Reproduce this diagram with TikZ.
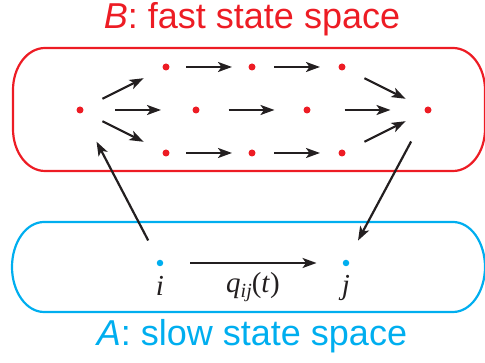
\documentclass[tikz,border=0pt]{standalone}
\usepackage{fontspec}
\setmainfont{Liberation Serif}
\setsansfont{Liberation Sans}
\usetikzlibrary{arrows.meta,calc}
\definecolor{fastred}{RGB}{237,28,36}
\definecolor{slowblue}{RGB}{0,174,239}
\definecolor{ink}{RGB}{35,31,32}
\begin{document}
\begin{tikzpicture}[x=1pt,y=1pt,
  reddot/.style={circle,fill=fastred,inner sep=0pt,minimum size=7pt},
  bluedot/.style={circle,fill=slowblue,inner sep=0pt,minimum size=6.5pt},
  arr/.style={draw=ink,line width=2.2pt,-{Stealth[length=14pt,width=10pt,inset=3.5pt]}},
  boxline/.style={line width=2.2pt},
  title/.style={font=\sffamily\fontsize{36}{36}\selectfont,inner sep=0pt},
  mathlbl/.style={font=\fontsize{29}{29}\selectfont,inner sep=0pt,text=ink}]
\useasboundingbox (0,0) rectangle (485,363);
% boxes
\draw[boxline,fastred] (45,315) -- (453,315) arc[start angle=90,end angle=0,x radius=32,y radius=42]
  -- (485,234) arc[start angle=0,end angle=-90,x radius=32,y radius=42]
  -- (45,192) arc[start angle=270,end angle=180,x radius=32,y radius=42]
  -- (13,273) arc[start angle=180,end angle=90,x radius=32,y radius=42] -- cycle;
\draw[boxline,slowblue] (44,141) -- (453,141) arc[start angle=90,end angle=0,x radius=32,y radius=45]
  arc[start angle=0,end angle=-90,x radius=32,y radius=45]
  -- (44,51) arc[start angle=270,end angle=180,x radius=32,y radius=45]
  arc[start angle=180,end angle=90,x radius=32,y radius=45] -- cycle;
% titles
\node[title,text=fastred] (tB) at (252,344) {\textit{B}: fast state space};
\node[title,text=slowblue] (tA) at (252,27) {\textit{A}: slow state space};
% fast states
\node[reddot] (s) at (80,253) {};
\node[reddot] (t1) at (166,296) {};
\node[reddot] (t2) at (252,296) {};
\node[reddot] (t3) at (342,296) {};
\node[reddot] (m1) at (196,253) {};
\node[reddot] (m2) at (307,253) {};
\node[reddot] (b1) at (166,210) {};
\node[reddot] (b2) at (252,210) {};
\node[reddot] (b3) at (342,210) {};
\node[reddot] (e) at (428,253) {};
% slow states
\node[bluedot] (i) at (160,100) {};
\node[bluedot] (j) at (346,100) {};
\node[mathlbl] (li) at (160,77) {\textit{i}};
\node[mathlbl] (lj) at (346,75) {\textit{j}};
\node[mathlbl] (lq) at (253,76) {\textit{q}\raisebox{-0.2em}{\fontsize{20}{20}\selectfont\itshape ij}(\textit{t})};
% fast arrows
\foreach \a/\b in {s/t1,s/m1,s/b1,t1/t2,t2/t3,m1/m2,m2/e,b1/b2,b2/b3,t3/e,b3/e}{
  \draw[arr] ($(\a)!0.5!(\b)!23pt!(\a)$) -- ($(\a)!0.5!(\b)!23pt!(\b)$);
}
% slow arrow
\draw[arr,shorten <=27pt,shorten >=26pt] (i) -- (j);
% links
\draw[arr,shorten <=22pt,shorten >=32pt] (i) -- (s);
\draw[arr,shorten <=32pt,shorten >=22pt] (e) -- (j);
\end{tikzpicture}
\end{document}
